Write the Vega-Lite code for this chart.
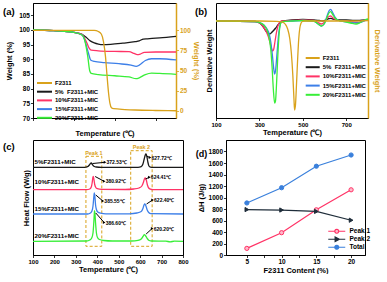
{
"$schema": "https://vega.github.io/schema/vega-lite/v6.json",
"padding": {"left": 2, "top": 2, "right": 0, "bottom": 0},
"config": {
 "font": "Liberation Sans",
 "view": {"stroke": "#000", "strokeWidth": 1},
 "axis": {"grid": false, "labelFontWeight": "bold", "titleFontWeight": "bold", "labelFontSize": 6.5, "titleFontSize": 7.5, "tickSize": 2.5, "labelPadding": 1, "titlePadding": 1, "domainColor": "#000", "tickColor": "#000", "labelColor": "#000", "titleColor": "#000", "labelFlush": false, "labelOverlap": false, "tickWidth": 0.8, "domainWidth": 1},
 "legend": {"labelFontWeight": "bold", "labelFontSize": 6, "padding": 0, "labelColor": "#000"},
 "text": {"fontWeight": "bold"}
},
"datasets": {
 "a_mix": [
  {"s":"5%\u00a0\u00a0F2311+MIC","T":100,"v":100},{"s":"5%\u00a0\u00a0F2311+MIC","T":200,"v":99.8},{"s":"5%\u00a0\u00a0F2311+MIC","T":300,"v":99.2},{"s":"5%\u00a0\u00a0F2311+MIC","T":340,"v":98.5},{"s":"5%\u00a0\u00a0F2311+MIC","T":360,"v":97.5},{"s":"5%\u00a0\u00a0F2311+MIC","T":380,"v":96.3},{"s":"5%\u00a0\u00a0F2311+MIC","T":400,"v":95.6},{"s":"5%\u00a0\u00a0F2311+MIC","T":420,"v":95.2},{"s":"5%\u00a0\u00a0F2311+MIC","T":440,"v":95.0},{"s":"5%\u00a0\u00a0F2311+MIC","T":480,"v":95.1},{"s":"5%\u00a0\u00a0F2311+MIC","T":540,"v":95.5},{"s":"5%\u00a0\u00a0F2311+MIC","T":600,"v":96.0},{"s":"5%\u00a0\u00a0F2311+MIC","T":620,"v":96.3},{"s":"5%\u00a0\u00a0F2311+MIC","T":640,"v":96.9},{"s":"5%\u00a0\u00a0F2311+MIC","T":660,"v":97.0},{"s":"5%\u00a0\u00a0F2311+MIC","T":720,"v":97.3},{"s":"5%\u00a0\u00a0F2311+MIC","T":800,"v":97.8},
  {"s":"10%F2311+MIC","T":100,"v":100},{"s":"10%F2311+MIC","T":200,"v":99.8},{"s":"10%F2311+MIC","T":300,"v":99.2},{"s":"10%F2311+MIC","T":340,"v":98.4},{"s":"10%F2311+MIC","T":352,"v":97.2},{"s":"10%F2311+MIC","T":365,"v":95.4},{"s":"10%F2311+MIC","T":375,"v":93.8},{"s":"10%F2311+MIC","T":385,"v":93.1},{"s":"10%F2311+MIC","T":420,"v":92.9},{"s":"10%F2311+MIC","T":500,"v":92.7},{"s":"10%F2311+MIC","T":570,"v":92.6},{"s":"10%F2311+MIC","T":595,"v":92.0},{"s":"10%F2311+MIC","T":610,"v":91.6},{"s":"10%F2311+MIC","T":625,"v":91.8},{"s":"10%F2311+MIC","T":645,"v":92.4},{"s":"10%F2311+MIC","T":700,"v":92.5},{"s":"10%F2311+MIC","T":800,"v":92.5},
  {"s":"15%F2311+MIC","T":100,"v":100},{"s":"15%F2311+MIC","T":200,"v":99.8},{"s":"15%F2311+MIC","T":300,"v":99.2},{"s":"15%F2311+MIC","T":340,"v":98.3},{"s":"15%F2311+MIC","T":352,"v":96.8},{"s":"15%F2311+MIC","T":362,"v":94.5},{"s":"15%F2311+MIC","T":372,"v":92.0},{"s":"15%F2311+MIC","T":382,"v":89.8},{"s":"15%F2311+MIC","T":400,"v":89.3},{"s":"15%F2311+MIC","T":450,"v":88.9},{"s":"15%F2311+MIC","T":520,"v":88.5},{"s":"15%F2311+MIC","T":580,"v":88.0},{"s":"15%F2311+MIC","T":605,"v":87.6},{"s":"15%F2311+MIC","T":620,"v":88.0},{"s":"15%F2311+MIC","T":650,"v":89.6},{"s":"15%F2311+MIC","T":680,"v":90.2},{"s":"15%F2311+MIC","T":720,"v":90.2},{"s":"15%F2311+MIC","T":800,"v":89.8},
  {"s":"20%F2311+MIC","T":100,"v":100},{"s":"20%F2311+MIC","T":200,"v":99.8},{"s":"20%F2311+MIC","T":300,"v":99.2},{"s":"20%F2311+MIC","T":340,"v":98.3},{"s":"20%F2311+MIC","T":355,"v":96.0},{"s":"20%F2311+MIC","T":368,"v":91.0},{"s":"20%F2311+MIC","T":378,"v":86.0},{"s":"20%F2311+MIC","T":385,"v":85.2},{"s":"20%F2311+MIC","T":420,"v":84.8},{"s":"20%F2311+MIC","T":500,"v":84.4},{"s":"20%F2311+MIC","T":570,"v":84.0},{"s":"20%F2311+MIC","T":605,"v":83.4},{"s":"20%F2311+MIC","T":620,"v":83.7},{"s":"20%F2311+MIC","T":650,"v":84.8},{"s":"20%F2311+MIC","T":680,"v":85.3},{"s":"20%F2311+MIC","T":720,"v":85.2},{"s":"20%F2311+MIC","T":800,"v":84.9}
 ],
 "a_f": [
  {"s":"F2311","T":100,"v":100},{"s":"F2311","T":300,"v":100},{"s":"F2311","T":400,"v":99.8},{"s":"F2311","T":420,"v":98.5},{"s":"F2311","T":435,"v":95},{"s":"F2311","T":445,"v":86},{"s":"F2311","T":455,"v":67},{"s":"F2311","T":462,"v":45},{"s":"F2311","T":470,"v":22},{"s":"F2311","T":477,"v":9},{"s":"F2311","T":484,"v":4},{"s":"F2311","T":495,"v":2.8},{"s":"F2311","T":550,"v":1.8},{"s":"F2311","T":600,"v":1.2},{"s":"F2311","T":700,"v":0.6},{"s":"F2311","T":800,"v":0.3}
 ],
 "b_mix": [
  {"s":"5%\u00a0\u00a0F2311+MIC","T":100,"v":0},{"s":"5%\u00a0\u00a0F2311+MIC","T":280,"v":-0.5},{"s":"5%\u00a0\u00a0F2311+MIC","T":300,"v":-2},{"s":"5%\u00a0\u00a0F2311+MIC","T":315,"v":-5},{"s":"5%\u00a0\u00a0F2311+MIC","T":330,"v":-10},{"s":"5%\u00a0\u00a0F2311+MIC","T":340,"v":-12.5},{"s":"5%\u00a0\u00a0F2311+MIC","T":348,"v":-13},{"s":"5%\u00a0\u00a0F2311+MIC","T":356,"v":-11.5},{"s":"5%\u00a0\u00a0F2311+MIC","T":365,"v":-9.5},{"s":"5%\u00a0\u00a0F2311+MIC","T":375,"v":-7},{"s":"5%\u00a0\u00a0F2311+MIC","T":385,"v":-4},{"s":"5%\u00a0\u00a0F2311+MIC","T":395,"v":-1.5},{"s":"5%\u00a0\u00a0F2311+MIC","T":405,"v":0},{"s":"5%\u00a0\u00a0F2311+MIC","T":450,"v":1},{"s":"5%\u00a0\u00a0F2311+MIC","T":500,"v":1.5},{"s":"5%\u00a0\u00a0F2311+MIC","T":550,"v":1.2},{"s":"5%\u00a0\u00a0F2311+MIC","T":575,"v":0.5},{"s":"5%\u00a0\u00a0F2311+MIC","T":590,"v":0},{"s":"5%\u00a0\u00a0F2311+MIC","T":605,"v":1},{"s":"5%\u00a0\u00a0F2311+MIC","T":620,"v":2.3},{"s":"5%\u00a0\u00a0F2311+MIC","T":628,"v":2.7},{"s":"5%\u00a0\u00a0F2311+MIC","T":638,"v":2},{"s":"5%\u00a0\u00a0F2311+MIC","T":655,"v":1.2},{"s":"5%\u00a0\u00a0F2311+MIC","T":700,"v":1},{"s":"5%\u00a0\u00a0F2311+MIC","T":740,"v":0.5},{"s":"5%\u00a0\u00a0F2311+MIC","T":770,"v":0.8},{"s":"5%\u00a0\u00a0F2311+MIC","T":800,"v":1.2},
  {"s":"10%F2311+MIC","T":100,"v":0},{"s":"10%F2311+MIC","T":280,"v":-0.5},{"s":"10%F2311+MIC","T":300,"v":-2},{"s":"10%F2311+MIC","T":315,"v":-5},{"s":"10%F2311+MIC","T":330,"v":-10},{"s":"10%F2311+MIC","T":340,"v":-15},{"s":"10%F2311+MIC","T":348,"v":-21},{"s":"10%F2311+MIC","T":355,"v":-27},{"s":"10%F2311+MIC","T":361,"v":-30},{"s":"10%F2311+MIC","T":366,"v":-28},{"s":"10%F2311+MIC","T":372,"v":-20},{"s":"10%F2311+MIC","T":378,"v":-12},{"s":"10%F2311+MIC","T":385,"v":-5},{"s":"10%F2311+MIC","T":393,"v":-1.5},{"s":"10%F2311+MIC","T":402,"v":0},{"s":"10%F2311+MIC","T":450,"v":0.5},{"s":"10%F2311+MIC","T":500,"v":1},{"s":"10%F2311+MIC","T":550,"v":0.5},{"s":"10%F2311+MIC","T":570,"v":-1.5},{"s":"10%F2311+MIC","T":585,"v":-3},{"s":"10%F2311+MIC","T":598,"v":-1.5},{"s":"10%F2311+MIC","T":610,"v":2},{"s":"10%F2311+MIC","T":620,"v":4.5},{"s":"10%F2311+MIC","T":628,"v":5},{"s":"10%F2311+MIC","T":637,"v":3.5},{"s":"10%F2311+MIC","T":650,"v":1.5},{"s":"10%F2311+MIC","T":670,"v":0.3},{"s":"10%F2311+MIC","T":700,"v":0},{"s":"10%F2311+MIC","T":730,"v":-1},{"s":"10%F2311+MIC","T":750,"v":-1.5},{"s":"10%F2311+MIC","T":775,"v":0},{"s":"10%F2311+MIC","T":800,"v":1.5},
  {"s":"15%F2311+MIC","T":100,"v":0},{"s":"15%F2311+MIC","T":280,"v":-0.5},{"s":"15%F2311+MIC","T":300,"v":-1.5},{"s":"15%F2311+MIC","T":320,"v":-4},{"s":"15%F2311+MIC","T":335,"v":-8},{"s":"15%F2311+MIC","T":345,"v":-13},{"s":"15%F2311+MIC","T":353,"v":-22},{"s":"15%F2311+MIC","T":360,"v":-35},{"s":"15%F2311+MIC","T":366,"v":-48},{"s":"15%F2311+MIC","T":370,"v":-53},{"s":"15%F2311+MIC","T":374,"v":-50},{"s":"15%F2311+MIC","T":379,"v":-38},{"s":"15%F2311+MIC","T":384,"v":-24},{"s":"15%F2311+MIC","T":389,"v":-12},{"s":"15%F2311+MIC","T":395,"v":-4},{"s":"15%F2311+MIC","T":401,"v":-1},{"s":"15%F2311+MIC","T":450,"v":0},{"s":"15%F2311+MIC","T":500,"v":0.5},{"s":"15%F2311+MIC","T":550,"v":0},{"s":"15%F2311+MIC","T":570,"v":-3},{"s":"15%F2311+MIC","T":585,"v":-5},{"s":"15%F2311+MIC","T":598,"v":-3},{"s":"15%F2311+MIC","T":610,"v":4},{"s":"15%F2311+MIC","T":620,"v":10},{"s":"15%F2311+MIC","T":628,"v":11.7},{"s":"15%F2311+MIC","T":636,"v":9},{"s":"15%F2311+MIC","T":648,"v":4},{"s":"15%F2311+MIC","T":665,"v":0.5},{"s":"15%F2311+MIC","T":690,"v":-0.5},{"s":"15%F2311+MIC","T":720,"v":-1.5},{"s":"15%F2311+MIC","T":745,"v":-2},{"s":"15%F2311+MIC","T":770,"v":-1},{"s":"15%F2311+MIC","T":800,"v":1.5},
  {"s":"20%F2311+MIC","T":100,"v":0},{"s":"20%F2311+MIC","T":280,"v":-0.5},{"s":"20%F2311+MIC","T":300,"v":-1.5},{"s":"20%F2311+MIC","T":320,"v":-4},{"s":"20%F2311+MIC","T":335,"v":-9},{"s":"20%F2311+MIC","T":345,"v":-17},{"s":"20%F2311+MIC","T":352,"v":-28},{"s":"20%F2311+MIC","T":358,"v":-45},{"s":"20%F2311+MIC","T":364,"v":-68},{"s":"20%F2311+MIC","T":370,"v":-82},{"s":"20%F2311+MIC","T":374,"v":-80},{"s":"20%F2311+MIC","T":379,"v":-62},{"s":"20%F2311+MIC","T":384,"v":-38},{"s":"20%F2311+MIC","T":389,"v":-18},{"s":"20%F2311+MIC","T":394,"v":-6},{"s":"20%F2311+MIC","T":400,"v":-1.5},{"s":"20%F2311+MIC","T":410,"v":-0.5},{"s":"20%F2311+MIC","T":450,"v":0},{"s":"20%F2311+MIC","T":500,"v":0.5},{"s":"20%F2311+MIC","T":550,"v":0},{"s":"20%F2311+MIC","T":570,"v":-3},{"s":"20%F2311+MIC","T":585,"v":-5},{"s":"20%F2311+MIC","T":598,"v":-3},{"s":"20%F2311+MIC","T":610,"v":3},{"s":"20%F2311+MIC","T":620,"v":8},{"s":"20%F2311+MIC","T":628,"v":9.3},{"s":"20%F2311+MIC","T":636,"v":7},{"s":"20%F2311+MIC","T":648,"v":3},{"s":"20%F2311+MIC","T":665,"v":0.5},{"s":"20%F2311+MIC","T":690,"v":-0.5},{"s":"20%F2311+MIC","T":720,"v":-2},{"s":"20%F2311+MIC","T":745,"v":-3},{"s":"20%F2311+MIC","T":765,"v":-1.5},{"s":"20%F2311+MIC","T":785,"v":1},{"s":"20%F2311+MIC","T":800,"v":2}
 ],
 "b_f": [
  {"s":"F2311","T":100,"v":0},{"s":"F2311","T":200,"v":0},{"s":"F2311","T":300,"v":0},{"s":"F2311","T":380,"v":-0.3},{"s":"F2311","T":400,"v":-0.8},{"s":"F2311","T":410,"v":-1.5},{"s":"F2311","T":420,"v":-3.5},{"s":"F2311","T":430,"v":-8},{"s":"F2311","T":440,"v":-18},{"s":"F2311","T":447,"v":-32},{"s":"F2311","T":454,"v":-55},{"s":"F2311","T":459,"v":-78},{"s":"F2311","T":462,"v":-89},{"s":"F2311","T":466,"v":-84},{"s":"F2311","T":471,"v":-62},{"s":"F2311","T":476,"v":-38},{"s":"F2311","T":481,"v":-18},{"s":"F2311","T":486,"v":-7},{"s":"F2311","T":491,"v":-2.5},{"s":"F2311","T":498,"v":-0.5},{"s":"F2311","T":510,"v":0},{"s":"F2311","T":600,"v":0},{"s":"F2311","T":700,"v":0},{"s":"F2311","T":800,"v":0.3}
 ],
 "c": [
  {"s":"5","T":100,"v":87.7},{"s":"5","T":340,"v":87.7},{"s":"5","T":355,"v":88.3},{"s":"5","T":363,"v":90},{"s":"5","T":368,"v":91.6},{"s":"5","T":372,"v":92},{"s":"5","T":377,"v":90.5},{"s":"5","T":384,"v":88.8},{"s":"5","T":395,"v":88},{"s":"5","T":420,"v":87.7},{"s":"5","T":590,"v":87.7},{"s":"5","T":605,"v":88.3},{"s":"5","T":613,"v":91},{"s":"5","T":619,"v":96},{"s":"5","T":624,"v":100},{"s":"5","T":627,"v":101},{"s":"5","T":631,"v":99},{"s":"5","T":636,"v":93},{"s":"5","T":641,"v":89},{"s":"5","T":648,"v":87.9},{"s":"5","T":660,"v":87.7},{"s":"5","T":800,"v":87.7},
  {"s":"10","T":100,"v":65.3},{"s":"10","T":350,"v":65.3},{"s":"10","T":365,"v":66},{"s":"10","T":372,"v":68},{"s":"10","T":376,"v":72},{"s":"10","T":379,"v":77},{"s":"10","T":381,"v":78.7},{"s":"10","T":384,"v":76},{"s":"10","T":388,"v":70.5},{"s":"10","T":393,"v":67.5},{"s":"10","T":400,"v":66.3},{"s":"10","T":420,"v":65.6},{"s":"10","T":530,"v":65.5},{"s":"10","T":570,"v":66},{"s":"10","T":595,"v":67},{"s":"10","T":608,"v":69},{"s":"10","T":615,"v":72.5},{"s":"10","T":620,"v":76},{"s":"10","T":624,"v":77},{"s":"10","T":628,"v":75.5},{"s":"10","T":634,"v":70},{"s":"10","T":640,"v":67},{"s":"10","T":648,"v":65.8},{"s":"10","T":660,"v":65.3},{"s":"10","T":800,"v":65.3},
  {"s":"15","T":100,"v":41},{"s":"15","T":355,"v":41},{"s":"15","T":368,"v":42},{"s":"15","T":375,"v":44},{"s":"15","T":380,"v":49},{"s":"15","T":383,"v":56},{"s":"15","T":386,"v":62},{"s":"15","T":389,"v":58},{"s":"15","T":392,"v":50},{"s":"15","T":396,"v":45.5},{"s":"15","T":402,"v":43},{"s":"15","T":415,"v":41.8},{"s":"15","T":440,"v":41.2},{"s":"15","T":550,"v":41.2},{"s":"15","T":585,"v":42},{"s":"15","T":605,"v":43.5},{"s":"15","T":613,"v":46.5},{"s":"15","T":618,"v":50},{"s":"15","T":622,"v":51},{"s":"15","T":627,"v":49},{"s":"15","T":633,"v":45},{"s":"15","T":640,"v":42.5},{"s":"15","T":650,"v":41.3},{"s":"15","T":800,"v":41},
  {"s":"20","T":100,"v":13.7},{"s":"20","T":350,"v":14},{"s":"20","T":365,"v":15},{"s":"20","T":374,"v":17},{"s":"20","T":380,"v":22},{"s":"20","T":383,"v":30},{"s":"20","T":386,"v":41},{"s":"20","T":387,"v":44.3},{"s":"20","T":389,"v":42},{"s":"20","T":392,"v":32},{"s":"20","T":396,"v":22},{"s":"20","T":401,"v":17.5},{"s":"20","T":410,"v":15.5},{"s":"20","T":430,"v":14.5},{"s":"20","T":470,"v":14},{"s":"20","T":560,"v":14},{"s":"20","T":590,"v":14.6},{"s":"20","T":605,"v":16},{"s":"20","T":613,"v":18.5},{"s":"20","T":620,"v":20.3},{"s":"20","T":626,"v":19},{"s":"20","T":633,"v":16.5},{"s":"20","T":642,"v":14.5},{"s":"20","T":655,"v":14},{"s":"20","T":720,"v":13.8},{"s":"20","T":740,"v":13.2},{"s":"20","T":760,"v":13.8},{"s":"20","T":800,"v":13.7}
 ],
 "c_box": [{"p":"Peak 1","T1":347,"T2":421,"h1":98.7,"h2":8.7},{"p":"Peak 2","T1":556,"T2":656,"h1":104.3,"h2":8.7}],
 "c_peak": [{"p":"Peak 1","T":384,"h":98.7},{"p":"Peak 2","T":606,"h":104.3}],
 "c_lab": [{"t":"5%F2311+MIC","T":107,"h":93},{"t":"10%F2311+MIC","T":107,"h":72.7},{"t":"15%F2311+MIC","T":107,"h":46.3},{"t":"20%F2311+MIC","T":107,"h":18.7}],
 "c_tl": [
  {"t":"372.53℃","T0":378,"h0":91.5,"T1":436,"h1":92.7},
  {"t":"627.72℃","T0":631,"h0":98.7,"T1":646,"h1":97.5},
  {"t":"380.92℃","T0":390,"h0":78.5,"T1":432,"h1":73.7},
  {"t":"624.41℃","T0":625,"h0":76,"T1":643,"h1":77.7},
  {"t":"385.55℃","T0":393,"h0":60,"T1":426,"h1":54},
  {"t":"622.40℃","T0":630,"h0":51,"T1":658,"h1":55},
  {"t":"386.60℃","T0":393,"h0":42,"T1":432,"h1":32.5},
  {"t":"620.20℃","T0":628,"h0":21,"T1":656,"h1":26.5}
 ],
 "d": [
  {"s":"Peak 1","c":5,"v":115},{"s":"Peak 1","c":10,"v":388},{"s":"Peak 1","c":15,"v":786},{"s":"Peak 1","c":20,"v":1134},
  {"s":"Peak 2","c":5,"v":790},{"s":"Peak 2","c":10,"v":782},{"s":"Peak 2","c":15,"v":758},{"s":"Peak 2","c":20,"v":605},
  {"s":"Total","c":5,"v":905},{"s":"Total","c":10,"v":1170},{"s":"Total","c":15,"v":1544},{"s":"Total","c":20,"v":1739}
 ]
},
"spacing": 2,
"resolve": {"scale": {"color": "independent"}, "legend": {"color": "independent"}},
"vconcat": [
 {"hconcat": [
  {"width": 143, "height": 115,
   "layer": [
    {"data": {"name": "a_mix"},
     "mark": {"type": "line", "interpolate": "monotone", "strokeWidth": 1.3},
     "encoding": {
      "x": {"field": "T", "type": "quantitative", "scale": {"domain": [100, 800]}, "axis": {"title": "Temperature (℃)", "values": [100,200,300,400,500,600,700,800], "labelExpr": "datum.value % 200 === 0 ? datum.label : ''"}},
      "y": {"field": "v", "type": "quantitative", "scale": {"domain": [70, 109.2]}, "axis": {"title": "Weight (%)", "values": [70,75,80,85,90,95,100,105], "titlePadding": 5}},
      "color": {"field": "s", "type": "nominal", "scale": {"domain": ["F2311","5%\u00a0\u00a0F2311+MIC","10%F2311+MIC","15%F2311+MIC","20%F2311+MIC"], "range": ["#D9A21B","#1a1a1a","#FF3366","#3D7FE8","#38EE38"]},
        "legend": {"orient": "none", "legendX": 8.5, "legendY": 77, "title": null, "symbolType": "M-3.75,0L3.75,0", "symbolSize": 16, "symbolStrokeWidth": 2, "labelOffset": 7.5, "labelFontSize": 6, "rowPadding": 0.7,
          "encode": {"symbols": {"update": {"shape": {"value": "M-3.75,0L3.75,0"}, "fill": {"value": "transparent"}}}}}}
     }},
    {"data": {"name": "a_f"},
     "mark": {"type": "line", "interpolate": "monotone", "strokeWidth": 1.3},
     "encoding": {
      "x": {"field": "T", "type": "quantitative"},
      "y": {"field": "v", "type": "quantitative", "scale": {"domain": [-8.7, 133.8]}, "axis": {"orient": "right", "title": "Weight (%)", "values": [0,25,50,75,100], "domainColor": "#D9A21B", "tickColor": "#D9A21B", "labelColor": "#D9A21B", "titleColor": "#D9A21B", "domainWidth": 1.5, "titlePadding": 1}},
      "color": {"field": "s", "type": "nominal", "legend": {"orient": "none", "legendX": 8.5, "legendY": 77, "title": null, "symbolType": "M-3.75,0L3.75,0", "symbolSize": 16, "symbolStrokeWidth": 2, "labelOffset": 7.5, "labelFontSize": 6, "rowPadding": 0.7,
          "encode": {"symbols": {"update": {"shape": {"value": "M-3.75,0L3.75,0"}, "fill": {"value": "transparent"}}}}}}
     }},
    {"data": {"values": [{}]},
     "mark": {"type": "text", "text": "(a)", "fontSize": 9.5, "align": "left", "baseline": "middle", "dx": -30, "dy": 8.5},
     "encoding": {"x": {"datum": 100, "type": "quantitative"}, "y": {"datum": 109.2, "type": "quantitative", "scale": {"domain": [70, 109.2]}, "axis": null}}}
   ],
   "resolve": {"scale": {"y": "independent"}}
  },
  {"width": 152, "height": 115,
   "layer": [
    {"data": {"name": "b_mix"},
     "mark": {"type": "line", "interpolate": "monotone", "strokeWidth": 1.3},
     "encoding": {
      "x": {"field": "T", "type": "quantitative", "scale": {"domain": [100, 800]}, "axis": {"title": "Temperature (℃)", "values": [100,200,300,400,500,600,700,800], "labelFontSize": 6}},
      "y": {"field": "v", "type": "quantitative", "scale": {"domain": [-97, 18]}, "axis": {"title": "Derivative Weight", "labels": false, "ticks": false, "domain": false, "titlePadding": 3}},
      "color": {"field": "s", "type": "nominal", "scale": {"domain": ["F2311","5%\u00a0\u00a0F2311+MIC","10%F2311+MIC","15%F2311+MIC","20%F2311+MIC"], "range": ["#D9A21B","#1a1a1a","#FF3366","#3D7FE8","#38EE38"]},
        "legend": {"orient": "none", "legendX": 93.7, "legendY": 52, "title": null, "symbolType": "M-3.5,0L3.5,0", "symbolSize": 16, "symbolStrokeWidth": 2, "labelOffset": 7, "labelFontSize": 6, "rowPadding": 1.2,
          "encode": {"symbols": {"update": {"shape": {"value": "M-3.5,0L3.5,0"}, "fill": {"value": "transparent"}}}}}}
     }},
    {"data": {"name": "b_f"},
     "mark": {"type": "line", "interpolate": "monotone", "strokeWidth": 1.3},
     "encoding": {
      "x": {"field": "T", "type": "quantitative"},
      "y": {"field": "v", "type": "quantitative", "scale": {"domain": [-97, 18]}, "axis": {"orient": "right", "title": "Derivative Weight", "labels": false, "ticks": false, "domainColor": "#D9A21B", "domainWidth": 1.5, "titleColor": "#D9A21B", "titlePadding": 4}},
      "color": {"field": "s", "type": "nominal", "legend": {"orient": "none", "legendX": 93.7, "legendY": 52, "title": null, "symbolType": "M-3.5,0L3.5,0", "symbolSize": 16, "symbolStrokeWidth": 2, "labelOffset": 7, "labelFontSize": 6, "rowPadding": 1.2,
          "encode": {"symbols": {"update": {"shape": {"value": "M-3.5,0L3.5,0"}, "fill": {"value": "transparent"}}}}}}
     }},
    {"data": {"values": [{}]},
     "mark": {"type": "text", "text": "(b)", "fontSize": 9.5, "align": "left", "baseline": "middle", "dx": -21, "dy": 8.5},
     "encoding": {"x": {"datum": 100, "type": "quantitative"}, "y": {"datum": 18, "type": "quantitative", "scale": {"domain": [-97, 18]}, "axis": null}}}
   ],
   "resolve": {"scale": {"y": "independent"}}
  }
 ], "bounds": "flush", "spacing": 40,
 "resolve": {"scale": {"color": "independent"}, "legend": {"color": "independent"}}},
 {"hconcat": [
  {"width": 150, "height": 115,
   "encoding": {
    "x": {"type": "quantitative", "scale": {"domain": [100, 800]}, "axis": {"title": "Temperature (℃)", "values": [100,200,300,400,500,600,700,800], "labelFontSize": 6}},
    "y": {"type": "quantitative", "scale": {"domain": [0, 115]}, "axis": {"title": "Heat Flow (W/g)", "labels": false, "ticks": false, "domain": false, "titlePadding": 3}}
   },
   "layer": [
    {"data": {"name": "c_box"},
     "mark": {"type": "rect", "fillOpacity": 0, "stroke": "#D9A21B", "strokeWidth": 1, "strokeDash": [3, 2]},
     "encoding": {"x": {"field": "T1"}, "x2": {"field": "T2"}, "y": {"field": "h1"}, "y2": {"field": "h2"}}},
    {"data": {"name": "c"},
     "mark": {"type": "line", "interpolate": "monotone", "strokeWidth": 1.3},
     "encoding": {
      "x": {"field": "T"}, "y": {"field": "v"},
      "color": {"field": "s", "type": "nominal", "scale": {"domain": ["5","10","15","20"], "range": ["#1a1a1a","#FF3366","#3D7FE8","#38EE38"]}, "legend": null}
     }},
    {"data": {"name": "c_peak"},
     "mark": {"type": "text", "fontSize": 5.5, "color": "#D9A21B", "baseline": "bottom", "dy": -0.5},
     "encoding": {"x": {"field": "T"}, "y": {"field": "h"}, "text": {"field": "p"}}},
    {"data": {"name": "c_lab"},
     "mark": {"type": "text", "fontSize": 6.2, "align": "left", "baseline": "middle", "color": "#000"},
     "encoding": {"x": {"field": "T"}, "y": {"field": "h"}, "text": {"field": "t"}}},
    {"data": {"name": "c_tl"},
     "mark": {"type": "rule", "strokeWidth": 1, "color": "#000"},
     "encoding": {"x": {"field": "T0"}, "y": {"field": "h0"}, "x2": {"field": "T1"}, "y2": {"field": "h1"}}},
    {"data": {"name": "c_tl"},
     "mark": {"type": "point", "shape": "triangle-right", "size": 9, "filled": true, "color": "#000", "opacity": 1},
     "encoding": {"x": {"field": "T1"}, "y": {"field": "h1"}}},
    {"data": {"name": "c_tl"},
     "mark": {"type": "text", "fontSize": 5, "align": "left", "baseline": "middle", "dx": 1.5, "color": "#000"},
     "encoding": {"x": {"field": "T1"}, "y": {"field": "h1"}, "text": {"field": "t"}}},
    {"data": {"values": [{}]},
     "mark": {"type": "text", "text": "(c)", "fontSize": 9.5, "align": "left", "baseline": "middle", "dx": -30, "dy": 6.5},
     "encoding": {"x": {"datum": 100}, "y": {"datum": 115}}}
   ]
  },
  {"width": 139, "height": 115,
   "layer": [
    {"data": {"name": "d"},
     "mark": {"type": "line", "strokeWidth": 1.2},
     "encoding": {
      "x": {"field": "c", "type": "quantitative", "scale": {"domain": [2.7, 21.8]}, "axis": {"title": "F2311 Content (%)", "labelOverlap": false, "values": [5,7.5,10,12.5,15,17.5,20], "labelExpr": "datum.value % 5 === 0 ? datum.label : ''"}},
      "y": {"field": "v", "type": "quantitative", "scale": {"domain": [0, 1885]}, "axis": {"title": "ΔH (J/g)", "format": "d", "labelOverlap": false, "values": [0,200,400,600,800,1000,1200,1400,1600,1800], "titlePadding": 2.7}},
      "color": {"field": "s", "type": "nominal", "scale": {"domain": ["Peak 1","Peak 2","Total"], "range": ["#FF3366","#1F2D3A","#3A80DC"]},
       "legend": {"orient": "none", "legendX": 107.5, "legendY": 88, "title": null, "symbolType": "M-4.25,0L4.25,0", "symbolSize": 16, "symbolStrokeWidth": 1.2, "labelOffset": 9.5, "labelFontSize": 6.5, "rowPadding": -2.2,
        "encode": {"symbols": {"update": {
          "size": {"value": 16},
          "shape": [{"test": "datum.value === 'Peak 1'", "value": "M-4.25,0L-1,0M1,0L4.25,0M1,0L0.87,0.5L0.5,0.87L0,1L-0.5,0.87L-0.87,0.5L-1,0L-0.87,-0.5L-0.5,-0.87L0,-1L0.5,-0.87L0.87,-0.5Z"}, {"test": "datum.value === 'Peak 2'", "value": "M-4.25,0L4.25,0M-0.8,-1.1L1.3,0L-0.8,1.1Z"}, {"value": "M-4.25,0L4.25,0M1,0L0.87,0.5L0.5,0.87L0,1L-0.5,0.87L-0.87,0.5L-1,0L-0.87,-0.5L-0.5,-0.87L0,-1L0.5,-0.87L0.87,-0.5Z"}],
          "fill": [{"test": "datum.value === 'Peak 1'", "value": "#FFB8CA"}, {"test": "datum.value === 'Peak 2'", "value": "#1F2D3A"}, {"value": "#3A80DC"}]}}}}}
     }},
    {"data": {"name": "d"}, "transform": [{"filter": "datum.s === 'Peak 1'"}],
     "mark": {"type": "point", "shape": "circle", "size": 18, "strokeWidth": 1, "opacity": 1, "fill": "#FFB8CA", "stroke": "#FF3366"},
     "encoding": {
      "x": {"field": "c", "type": "quantitative", "axis": {"title": "F2311 Content (%)", "labelOverlap": false, "values": [5,7.5,10,12.5,15,17.5,20], "labelExpr": "datum.value % 5 === 0 ? datum.label : ''"}},
      "y": {"field": "v", "type": "quantitative", "axis": {"title": "ΔH (J/g)", "format": "d", "labelOverlap": false, "values": [0,200,400,600,800,1000,1200,1400,1600,1800], "titlePadding": 2.7}}}},
    {"data": {"name": "d"}, "transform": [{"filter": "datum.s === 'Peak 2'"}],
     "mark": {"type": "point", "shape": "triangle-right", "size": 18, "strokeWidth": 1, "opacity": 1, "fill": "#1F2D3A", "stroke": "#1F2D3A"},
     "encoding": {
      "x": {"field": "c", "type": "quantitative", "axis": {"title": "F2311 Content (%)", "labelOverlap": false, "values": [5,7.5,10,12.5,15,17.5,20], "labelExpr": "datum.value % 5 === 0 ? datum.label : ''"}},
      "y": {"field": "v", "type": "quantitative", "axis": {"title": "ΔH (J/g)", "format": "d", "labelOverlap": false, "values": [0,200,400,600,800,1000,1200,1400,1600,1800], "titlePadding": 2.7}}}},
    {"data": {"name": "d"}, "transform": [{"filter": "datum.s === 'Total'"}],
     "mark": {"type": "point", "shape": "circle", "size": 18, "strokeWidth": 1, "opacity": 1, "fill": "#3A80DC", "stroke": "#3A80DC"},
     "encoding": {
      "x": {"field": "c", "type": "quantitative", "axis": {"title": "F2311 Content (%)", "labelOverlap": false, "values": [5,7.5,10,12.5,15,17.5,20], "labelExpr": "datum.value % 5 === 0 ? datum.label : ''"}},
      "y": {"field": "v", "type": "quantitative", "axis": {"title": "ΔH (J/g)", "format": "d", "labelOverlap": false, "values": [0,200,400,600,800,1000,1200,1400,1600,1800], "titlePadding": 2.7}}}},
    {"data": {"values": [{}]},
     "mark": {"type": "text", "text": "(d)", "fontSize": 9, "align": "left", "baseline": "middle", "dx": -35, "dy": 7.5},
     "encoding": {
      "x": {"datum": 2.7, "type": "quantitative", "axis": {"title": "F2311 Content (%)", "labelOverlap": false, "values": [5,7.5,10,12.5,15,17.5,20], "labelExpr": "datum.value % 5 === 0 ? datum.label : ''"}},
      "y": {"datum": 1885, "type": "quantitative", "axis": {"title": "ΔH (J/g)", "format": "d", "labelOverlap": false, "values": [0,200,400,600,800,1000,1200,1400,1600,1800], "titlePadding": 2.7}}}}
   ]
  }
 ], "bounds": "flush", "spacing": 43,
 "resolve": {"scale": {"color": "independent"}, "legend": {"color": "independent"}}}
]
}
